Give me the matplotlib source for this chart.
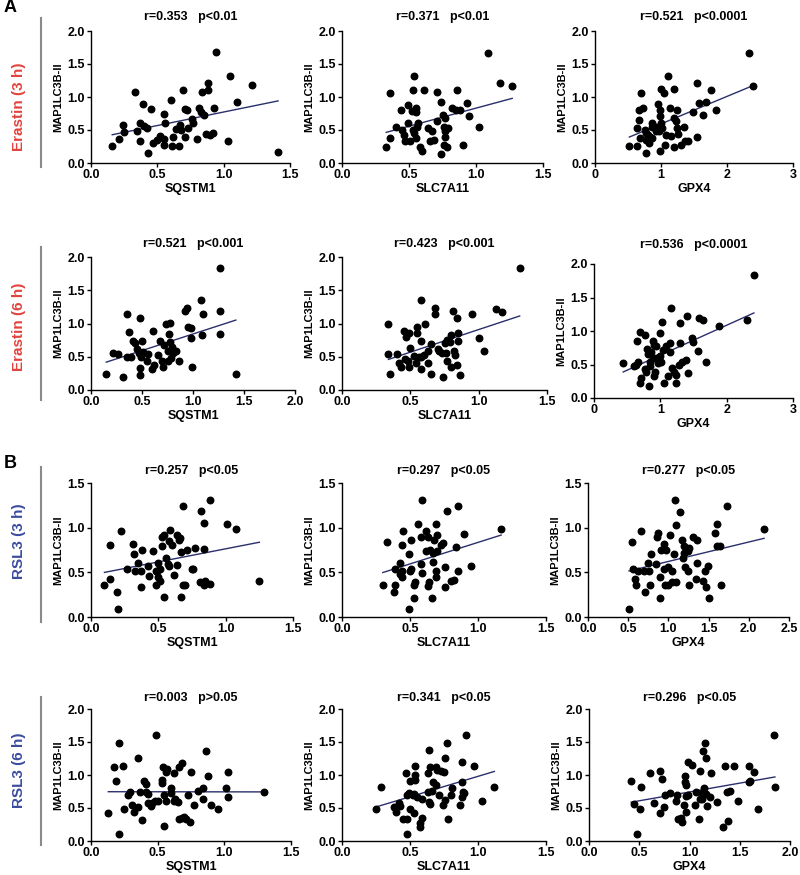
import matplotlib.pyplot as plt
import numpy as np

plt.rcParams['font.family'] = ['Liberation Sans', 'DejaVu Sans']

W, H = 800, 875

# ---- data ----
# Erastin (3 h)
e3_sqstm1_x = [0.16, 0.21, 0.24, 0.245, 0.33, 0.35, 0.37, 0.37, 0.39, 0.40, 0.42, 0.43, 0.45, 0.47, 0.50,
               0.52, 0.55, 0.56, 0.55, 0.55, 0.60, 0.61, 0.62, 0.64, 0.665, 0.67, 0.68, 0.69, 0.71, 0.71,
               0.72, 0.73, 0.76, 0.77, 0.80, 0.815, 0.83, 0.84, 0.85, 0.87, 0.88, 0.88, 0.90, 0.92, 0.93,
               0.945, 1.03, 1.045, 1.10, 1.21, 1.41]
e3_sqstm1_y = [0.26, 0.37, 0.57, 0.47, 1.07, 0.49, 0.60, 0.33, 0.89, 0.56, 0.53, 0.15, 0.82, 0.31, 0.35,
               0.41, 0.36, 0.60, 0.74, 0.28, 0.95, 0.26, 0.40, 0.52, 0.26, 0.58, 0.50, 1.11, 0.82, 0.40,
               0.80, 0.53, 0.67, 0.60, 0.36, 0.83, 0.77, 1.07, 0.72, 0.44, 1.11, 1.21, 0.43, 0.45, 0.84,
               1.68, 0.33, 1.32, 0.92, 1.18, 0.17]
e3_slc_x = [0.33, 0.36, 0.36, 0.40, 0.44, 0.45, 0.46, 0.47, 0.49, 0.49, 0.51, 0.52, 0.53, 0.535, 0.53,
            0.54, 0.55, 0.55, 0.55, 0.56, 0.57, 0.58, 0.60, 0.61, 0.64, 0.66, 0.67, 0.69, 0.71, 0.71,
            0.74, 0.74, 0.75, 0.76, 0.76, 0.77, 0.77, 0.77, 0.78, 0.79, 0.82, 0.85, 0.86, 0.88, 0.90,
            0.93, 0.95, 1.02, 1.09, 1.18, 1.27]
e3_slc_y = [0.25, 0.38, 1.06, 0.54, 0.81, 0.50, 0.43, 0.33, 0.88, 0.60, 0.33, 0.79, 1.10, 1.32, 0.50,
            0.45, 0.78, 0.84, 0.38, 0.55, 0.61, 0.25, 0.18, 1.10, 0.53, 0.33, 0.48, 0.35, 1.07, 0.63,
            0.93, 0.14, 0.73, 0.55, 0.27, 0.48, 0.68, 0.40, 0.24, 0.53, 0.84, 0.81, 1.10, 0.80, 0.27,
            0.91, 0.71, 0.54, 1.67, 1.21, 1.17]
e3_gpx4_x = [0.52, 0.63, 0.63, 0.67, 0.70, 0.72, 0.66, 0.68, 0.75, 0.77, 0.78, 0.78, 0.80, 0.82, 0.83,
             0.86, 0.87, 0.87, 0.92, 0.93, 0.96, 0.97, 0.98, 0.98, 0.99, 1.00, 1.00, 1.02, 1.04, 1.06,
             1.08, 1.11, 1.13, 1.15, 1.20, 1.20, 1.20, 1.23, 1.24, 1.24, 1.26, 1.30, 1.35, 1.36, 1.41,
             1.48, 1.54, 1.55, 1.57, 1.64, 1.68, 1.75, 1.84, 2.33, 2.40]
e3_gpx4_y = [0.26, 0.26, 0.53, 0.65, 1.06, 0.84, 0.81, 0.38, 0.50, 0.46, 0.15, 0.35, 0.43, 0.31, 0.40,
             0.54, 0.61, 0.38, 0.49, 0.54, 0.89, 0.48, 0.80, 0.71, 0.18, 1.12, 0.60, 0.53, 1.06, 0.28,
             0.43, 1.32, 0.84, 0.41, 1.12, 0.68, 0.25, 0.64, 0.81, 0.53, 0.44, 0.28, 0.55, 0.33, 0.33,
             0.78, 0.40, 1.21, 0.91, 0.73, 0.93, 1.11, 0.81, 1.67, 1.17]

# Erastin (6 h)
e6_sqstm1_x = [0.15, 0.22, 0.26, 0.31, 0.35, 0.35, 0.37, 0.39, 0.41, 0.43, 0.45, 0.47, 0.48, 0.48, 0.48,
               0.49, 0.50, 0.51, 0.55, 0.56, 0.60, 0.61, 0.62, 0.66, 0.68, 0.70, 0.71, 0.72, 0.74, 0.75,
               0.75, 0.76, 0.77, 0.77, 0.78, 0.79, 0.80, 0.83, 0.86, 0.92, 0.94, 0.95, 0.98, 0.98, 0.99,
               1.08, 1.09, 1.10, 1.26, 1.26, 1.26, 1.42]
e6_sqstm1_y = [0.24, 0.56, 0.54, 0.20, 1.15, 0.50, 0.87, 0.50, 0.74, 0.70, 0.62, 0.55, 1.09, 0.33, 0.23,
               0.49, 0.73, 0.57, 0.43, 0.54, 0.32, 0.88, 0.38, 0.52, 0.74, 0.43, 0.35, 0.68, 1.00, 0.58,
               0.43, 0.84, 1.01, 0.72, 0.48, 0.64, 0.55, 0.58, 0.43, 1.19, 1.23, 0.95, 0.93, 0.78, 0.35,
               1.35, 0.83, 1.14, 1.84, 1.19, 0.84, 0.24]
e6_slc_x = [0.34, 0.34, 0.35, 0.40, 0.42, 0.43, 0.45, 0.46, 0.47, 0.48, 0.49, 0.49, 0.50, 0.53, 0.54,
            0.55, 0.55, 0.56, 0.58, 0.58, 0.58, 0.58, 0.60, 0.61, 0.63, 0.63, 0.65, 0.65, 0.68, 0.68,
            0.70, 0.71, 0.73, 0.74, 0.75, 0.76, 0.77, 0.77, 0.79, 0.80, 0.81, 0.80, 0.82, 0.83, 0.84,
            0.84, 0.85, 0.85, 0.86, 0.95, 1.00, 1.04, 1.13, 1.17, 1.30]
e6_slc_y = [1.00, 0.54, 0.24, 0.54, 0.40, 0.35, 0.88, 0.46, 0.80, 0.44, 0.85, 0.34, 0.63, 0.51, 0.40,
            0.95, 0.85, 0.50, 1.36, 0.32, 0.74, 0.50, 0.53, 0.99, 0.41, 0.58, 0.69, 0.24, 1.23, 1.15,
            0.62, 0.58, 0.55, 0.20, 0.70, 0.55, 0.43, 0.75, 0.72, 0.35, 1.19, 0.83, 0.58, 0.53, 1.09,
            0.38, 0.73, 0.85, 0.23, 1.14, 0.78, 0.59, 1.22, 1.18, 1.84]
e6_gpx4_x = [0.44, 0.60, 0.64, 0.65, 0.67, 0.69, 0.70, 0.71, 0.77, 0.77, 0.79, 0.80, 0.81, 0.83, 0.84,
             0.85, 0.86, 0.89, 0.89, 0.90, 0.91, 0.92, 0.94, 0.94, 0.96, 0.99, 1.00, 1.01, 1.02, 1.04,
             1.06, 1.09, 1.11, 1.14, 1.14, 1.16, 1.17, 1.20, 1.23, 1.24, 1.28, 1.29, 1.30, 1.32, 1.39,
             1.40, 1.42, 1.47, 1.49, 1.57, 1.58, 1.64, 1.69, 1.89, 2.31, 2.41]
e6_gpx4_y = [0.52, 0.48, 0.50, 0.85, 0.54, 0.99, 0.23, 0.30, 0.94, 0.43, 0.39, 0.73, 0.65, 0.18, 0.48,
             0.54, 0.69, 0.85, 0.59, 0.79, 0.33, 0.39, 0.60, 0.77, 0.52, 0.97, 0.62, 0.54, 1.13, 0.72,
             0.22, 0.77, 0.33, 0.68, 0.82, 1.34, 0.45, 0.39, 0.22, 0.35, 0.50, 0.82, 1.12, 0.54, 0.57,
             1.22, 0.37, 0.90, 0.83, 0.70, 1.20, 1.17, 0.54, 1.07, 1.17, 1.83]

# RSL3 (3 h)
r3_sqstm1_x = [0.10, 0.14, 0.14, 0.19, 0.20, 0.22, 0.27, 0.31, 0.32, 0.33, 0.35, 0.37, 0.37, 0.38, 0.42,
               0.43, 0.46, 0.48, 0.48, 0.49, 0.50, 0.50, 0.51, 0.51, 0.53, 0.53, 0.54, 0.54, 0.56, 0.57,
               0.58, 0.58, 0.59, 0.60, 0.62, 0.64, 0.64, 0.65, 0.66, 0.67, 0.67, 0.68, 0.68, 0.70, 0.71,
               0.75, 0.76, 0.77, 0.81, 0.82, 0.84, 0.84, 0.84, 0.85, 0.88, 0.88, 1.01, 1.08, 1.25]
r3_sqstm1_y = [0.36, 0.81, 0.43, 0.28, 0.09, 0.96, 0.54, 0.82, 0.71, 0.52, 0.61, 0.51, 0.34, 0.75, 0.57,
               0.46, 0.74, 0.51, 0.36, 0.52, 0.60, 0.45, 0.40, 0.54, 0.90, 0.79, 0.22, 0.92, 0.66, 0.59,
               0.57, 0.85, 0.97, 0.81, 0.47, 0.58, 0.92, 0.86, 0.88, 0.73, 0.22, 1.24, 0.36, 0.36, 0.75,
               0.54, 0.54, 0.77, 0.39, 1.19, 1.05, 0.76, 0.36, 0.40, 0.37, 1.31, 1.04, 0.99, 0.40]
r3_slc_x = [0.30, 0.33, 0.38, 0.39, 0.39, 0.43, 0.43, 0.44, 0.44, 0.44, 0.45, 0.49, 0.49, 0.50, 0.51,
            0.51, 0.53, 0.53, 0.54, 0.56, 0.58, 0.58, 0.59, 0.59, 0.62, 0.62, 0.63, 0.63, 0.64, 0.65,
            0.66, 0.67, 0.67, 0.68, 0.69, 0.69, 0.69, 0.70, 0.70, 0.73, 0.74, 0.76, 0.76, 0.77, 0.80,
            0.82, 0.84, 0.85, 0.85, 0.90, 0.95, 1.17]
r3_slc_y = [0.36, 0.84, 0.28, 0.36, 0.54, 0.48, 0.61, 0.51, 0.45, 0.81, 0.96, 0.09, 0.71, 0.51, 0.54,
            0.86, 0.36, 0.21, 0.39, 1.04, 0.59, 0.90, 0.49, 1.31, 0.74, 0.96, 0.89, 0.35, 0.39, 0.75,
            0.21, 0.72, 0.62, 0.86, 0.52, 0.45, 1.04, 0.74, 0.92, 0.81, 0.83, 0.56, 0.34, 1.19, 0.40,
            0.41, 0.78, 0.52, 1.24, 0.93, 0.57, 0.99]
r3_gpx4_x = [0.51, 0.55, 0.56, 0.59, 0.60, 0.62, 0.66, 0.70, 0.71, 0.75, 0.76, 0.77, 0.78, 0.84, 0.86,
             0.87, 0.90, 0.90, 0.91, 0.95, 0.95, 0.96, 0.97, 1.00, 1.00, 1.02, 1.04, 1.04, 1.07, 1.08,
             1.09, 1.10, 1.14, 1.17, 1.18, 1.20, 1.20, 1.21, 1.24, 1.24, 1.25, 1.25, 1.31, 1.34, 1.35,
             1.36, 1.43, 1.46, 1.47, 1.49, 1.50, 1.58, 1.60, 1.60, 1.64, 1.66, 1.73, 2.19]
r3_gpx4_y = [0.09, 0.84, 0.54, 0.42, 0.36, 0.51, 0.96, 0.52, 0.28, 0.60, 0.52, 0.36, 0.71, 0.59, 0.90,
             0.94, 0.45, 0.21, 0.75, 0.82, 0.54, 0.36, 0.75, 0.36, 0.56, 0.92, 0.52, 0.39, 0.71, 1.31,
             0.39, 1.03, 1.18, 0.86, 0.66, 0.80, 0.72, 0.56, 0.51, 0.74, 0.77, 0.36, 0.89, 0.42, 0.61,
             0.86, 0.40, 0.52, 0.34, 0.57, 0.21, 0.94, 1.04, 0.80, 0.79, 0.36, 1.24, 0.99]

# RSL3 (6 h)
r6_sqstm1_x = [0.13, 0.17, 0.19, 0.21, 0.21, 0.24, 0.25, 0.28, 0.29, 0.31, 0.32, 0.35, 0.35, 0.37, 0.38,
               0.40, 0.41, 0.41, 0.43, 0.43, 0.45, 0.46, 0.48, 0.49, 0.50, 0.53, 0.53, 0.54, 0.55, 0.55,
               0.56, 0.56, 0.57, 0.60, 0.60, 0.62, 0.62, 0.63, 0.65, 0.66, 0.66, 0.68, 0.68, 0.70, 0.71,
               0.73, 0.74, 0.75, 0.77, 0.80, 0.84, 0.84, 0.86, 0.88, 0.90, 0.95, 1.01, 1.03, 1.03, 1.30]
r6_sqstm1_y = [0.43, 1.12, 0.91, 1.49, 0.11, 1.14, 0.48, 0.70, 0.74, 0.55, 0.44, 1.26, 0.51, 0.74, 0.32,
               0.91, 0.86, 0.74, 0.71, 0.58, 0.53, 0.58, 0.60, 1.60, 0.60, 0.88, 0.93, 1.12, 0.70, 0.22,
               0.61, 1.05, 1.09, 0.81, 0.73, 0.60, 1.03, 0.64, 0.59, 0.33, 1.12, 1.18, 0.35, 0.36, 0.33,
               0.69, 0.29, 1.05, 0.54, 0.76, 0.63, 0.81, 1.37, 0.99, 0.54, 0.48, 0.81, 1.05, 0.66, 0.75]
r6_slc_x = [0.25, 0.29, 0.38, 0.40, 0.42, 0.43, 0.45, 0.47, 0.48, 0.48, 0.48, 0.49, 0.50, 0.50, 0.52,
            0.53, 0.53, 0.54, 0.54, 0.54, 0.55, 0.57, 0.57, 0.59, 0.59, 0.63, 0.63, 0.64, 0.64, 0.65,
            0.65, 0.66, 0.67, 0.69, 0.69, 0.70, 0.71, 0.73, 0.74, 0.75, 0.76, 0.76, 0.77, 0.78, 0.80,
            0.81, 0.87, 0.88, 0.88, 0.89, 0.90, 0.88, 0.91, 0.97, 1.03, 1.12]
r6_slc_y = [0.49, 0.82, 0.51, 0.44, 0.58, 0.53, 0.34, 1.03, 0.33, 0.11, 0.70, 0.73, 0.91, 0.48, 0.70,
            0.71, 0.43, 1.00, 0.93, 1.14, 0.66, 0.28, 0.21, 0.64, 0.35, 1.03, 0.74, 1.38, 0.59, 1.12,
            0.56, 0.76, 0.89, 1.12, 0.85, 1.07, 0.70, 1.06, 0.55, 1.05, 1.26, 0.62, 1.49, 0.33, 0.70,
            0.81, 0.55, 0.89, 1.19, 0.74, 0.73, 0.66, 1.60, 1.14, 0.61, 0.82]
r6_gpx4_x = [0.42, 0.45, 0.48, 0.51, 0.52, 0.61, 0.65, 0.71, 0.71, 0.73, 0.75, 0.76, 0.81, 0.87, 0.88,
             0.89, 0.92, 0.93, 0.95, 0.96, 0.96, 0.97, 0.97, 0.97, 0.99, 0.99, 1.02, 1.05, 1.06, 1.09,
             1.10, 1.10, 1.12, 1.12, 1.13, 1.14, 1.15, 1.16, 1.16, 1.17, 1.20, 1.21, 1.27, 1.33, 1.35,
             1.37, 1.38, 1.40, 1.44, 1.48, 1.59, 1.59, 1.60, 1.64, 1.68, 1.84, 1.85]
r6_gpx4_y = [0.91, 0.56, 0.11, 0.48, 0.82, 1.03, 0.58, 0.43, 1.06, 0.94, 0.51, 0.70, 0.73, 0.61, 0.69,
             0.34, 0.35, 0.29, 0.55, 0.90, 0.99, 0.85, 0.44, 0.68, 1.19, 0.70, 1.15, 0.54, 0.74, 0.33,
             0.63, 1.06, 0.73, 0.63, 1.36, 0.81, 1.49, 0.71, 1.26, 0.53, 0.66, 1.03, 0.59, 0.21, 1.13,
             0.74, 0.31, 0.76, 1.13, 0.60, 1.14, 0.89, 0.91, 1.05, 0.48, 1.60, 0.82]

row_labels = ['Erastin (3 h)', 'Erastin (6 h)', 'RSL3 (3 h)', 'RSL3 (6 h)']
row_colors = ['#e2433d', '#e2433d', '#3b4c9e', '#3b4c9e']
x_names = ['SQSTM1', 'SLC7A11', 'GPX4']
stats = [['r=0.353   p<0.01', 'r=0.371   p<0.01', 'r=0.521   p<0.0001'],
         ['r=0.521   p<0.001', 'r=0.423   p<0.001', 'r=0.536   p<0.0001'],
         ['r=0.257   p<0.05', 'r=0.297   p<0.05', 'r=0.277   p<0.05'],
         ['r=0.003   p>0.05', 'r=0.341   p<0.05', 'r=0.296   p<0.05']]
data = [[(e3_sqstm1_x, e3_sqstm1_y), (e3_slc_x, e3_slc_y), (e3_gpx4_x, e3_gpx4_y)],
        [(e6_sqstm1_x, e6_sqstm1_y), (e6_slc_x, e6_slc_y), (e6_gpx4_x, e6_gpx4_y)],
        [(r3_sqstm1_x, r3_sqstm1_y), (r3_slc_x, r3_slc_y), (r3_gpx4_x, r3_gpx4_y)],
        [(r6_sqstm1_x, r6_sqstm1_y), (r6_slc_x, r6_slc_y), (r6_gpx4_x, r6_gpx4_y)]]

tk15 = ([0, 0.5, 1.0, 1.5], ['0.0', '0.5', '1.0', '1.5'])
tk20 = ([0, 0.5, 1.0, 1.5, 2.0], ['0.0', '0.5', '1.0', '1.5', '2.0'])
tk25 = ([0, 0.5, 1.0, 1.5, 2.0, 2.5], ['0.0', '0.5', '1.0', '1.5', '2.0', '2.5'])
tk3 = ([0, 1, 2, 3], ['0', '1', '2', '3'])
xticks = [[tk15, tk15, tk3], [tk20, tk15, tk3], [tk15, tk15, tk25], [tk15, tk15, tk20]]
yticks = [tk20, tk20, tk15, tk20]

# axes boxes in pixels: (left, right, bottom, top)
boxes = [[(91, 290, 163, 31), (342, 543, 163, 31), (595, 793, 163, 31)],
         [(91, 295, 390, 257), (342, 547, 390, 257), (594, 793, 398, 264)],
         [(91, 293, 617, 483), (342, 546, 617, 483), (588, 789, 617, 483)],
         [(91, 291, 841, 709), (342, 546, 841, 709), (589, 790, 841, 709)]]
title_y = [[17, 17, 17], [244, 244, 245], [471, 471, 471], [698, 698, 698]]

fig = plt.figure(figsize=(W / 100, H / 100), dpi=100)

for i in range(4):
    for j in range(3):
        l, r, b, t = boxes[i][j]
        ax = fig.add_axes([l / W, 1 - b / H, (r - l) / W, (b - t) / H])
        x = np.array(data[i][j][0])
        y = np.array(data[i][j][1])
        ax.scatter(x, y, s=22, color='black', zorder=3, clip_on=False)
        k, c = np.polyfit(x, y, 1)
        xs = np.array([x.min(), x.max()])
        ax.plot(xs, k * xs + c, color='#2a2f6c', linewidth=1, zorder=2)
        xt, xl = xticks[i][j]
        yt, yl = yticks[i]
        ax.set_xlim(xt[0], xt[-1])
        ax.set_ylim(yt[0], yt[-1])
        ax.set_xticks(xt, xl)
        ax.set_yticks(yt, yl)
        for lab in ax.get_xticklabels() + ax.get_yticklabels():
            lab.set_fontweight('bold')
        ax.tick_params(labelsize=9, length=3, width=1, pad=1.5)
        ax.spines['top'].set_visible(False)
        ax.spines['right'].set_visible(False)
        ax.spines['left'].set_linewidth(1)
        ax.spines['bottom'].set_linewidth(1)
        ax.set_xlabel(x_names[j], fontsize=9, fontweight='bold', labelpad=1)
        ax.set_ylabel('MAP1LC3B-II', fontsize=8, fontweight='bold', labelpad=3)
        fig.text((l + r) / 2 / W, 1 - title_y[i][j] / H, stats[i][j], fontsize=9,
                 fontweight='bold', ha='center', va='center')

# row labels and separator lines
row_mid = [107, 327, 541, 770]
line_span = [(18, 167), (247, 400), (467, 622), (697, 845)]
for i in range(4):
    fig.text(19 / W, 1 - row_mid[i] / H, row_labels[i], color=row_colors[i], fontsize=11,
             fontweight='bold', rotation=90, ha='center', va='center')
    y0, y1 = line_span[i]
    fig.add_artist(plt.Line2D([40.5 / W, 40.5 / W], [1 - y0 / H, 1 - y1 / H], color='#8a8a8a',
                              linewidth=1.5))

fig.text(4 / W, 1 - 8 / H, 'A', fontsize=13, fontweight='bold', va='center')
fig.text(4 / W, 1 - 463 / H, 'B', fontsize=13, fontweight='bold', va='center')

fig.savefig('out.png', dpi=100)
